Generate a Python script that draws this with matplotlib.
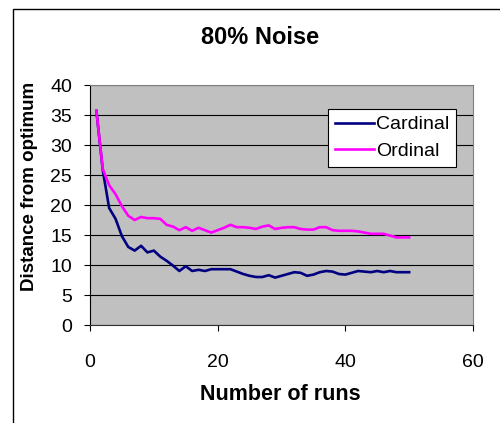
import matplotlib.pyplot as plt
from matplotlib.patches import Rectangle

plt.rcParams['font.family'] = ['Liberation Sans', 'DejaVu Sans']

runs = list(range(1, 51))
cardinal = [35.7, 25.8, 19.5, 17.7, 14.8, 13.0, 12.4, 13.2, 12.1, 12.4,
            11.4, 10.7, 9.9, 9.0, 9.8, 9.0, 9.2, 9.0, 9.3, 9.3,
            9.3, 9.3, 8.9, 8.5, 8.2, 8.0, 8.0, 8.3, 7.9, 8.2,
            8.5, 8.8, 8.7, 8.2, 8.4, 8.8, 9.0, 8.9, 8.5, 8.4,
            8.7, 9.0, 8.9, 8.8, 9.0, 8.8, 9.0, 8.8, 8.8, 8.8]
ordinal = [35.7, 26.0, 23.3, 21.8, 19.8, 18.2, 17.5, 18.0, 17.8, 17.8,
           17.7, 16.7, 16.4, 15.8, 16.3, 15.7, 16.2, 15.8, 15.4, 15.8,
           16.2, 16.7, 16.3, 16.3, 16.2, 16.0, 16.4, 16.6, 16.0, 16.2,
           16.3, 16.3, 16.0, 15.9, 15.9, 16.3, 16.3, 15.8, 15.7, 15.7,
           15.7, 15.6, 15.4, 15.2, 15.2, 15.2, 14.9, 14.6, 14.6, 14.6]
x_ticks = [0, 20, 40, 60]
y_ticks = list(range(0, 41, 5))

W, H = 500, 423
fig = plt.figure(figsize=(W / 100, H / 100), dpi=100, facecolor='white')

# chart-area frame (only its top and left edges fall inside the image)
fig.patches.append(Rectangle((13 / W, -0.1), 1.2, 1 - 9 / H + 0.1,
                             transform=fig.transFigure, fill=False,
                             edgecolor='black', linewidth=1.0))

ax = fig.add_axes([90 / W, 1 - 325 / H, 383 / W, 240 / H])
ax.set_facecolor('#C0C0C0')

ax.plot(runs, cardinal, color='#000080', linewidth=1.9, label='Cardinal')
ax.plot(runs, ordinal, color='#FF00FF', linewidth=1.9, label='Ordinal')

ax.set_xlim(0, 60)
ax.set_ylim(0, 40)
ax.set_xticks(x_ticks)
ax.set_yticks(y_ticks)
ax.yaxis.grid(True, color='black', linewidth=0.8)
ax.set_axisbelow(True)

for side in ('top', 'right'):
    ax.spines[side].set_color('#808080')
    ax.spines[side].set_linewidth(0.8)
ax.spines['left'].set_color('black')
ax.spines['bottom'].set_color('#333333')

ax.tick_params(axis='both', direction='out', length=4, width=0.8,
               labelsize=14, color='black')
ax.tick_params(axis='y', pad=9)
ax.tick_params(axis='x', pad=17)

fig.text(260 / W, 1 - 38 / H, '80% Noise', fontsize=17, fontweight='bold',
         ha='center', va='center')
fig.text(280 / W, 1 - 394 / H, 'Number of runs', fontsize=15.5, fontweight='bold',
         ha='center', va='center')
fig.text(30 / W, 1 - 186 / H, 'Distance from optimum', fontsize=13.5,
         fontweight='bold', ha='center', va='center', rotation=90)

leg = ax.legend(loc='upper left', bbox_to_anchor=(328 / W, 1 - 109 / H),
                bbox_transform=fig.transFigure, fontsize=14, fancybox=False,
                framealpha=1, edgecolor='black', handlelength=2.0,
                handletextpad=0.1, borderpad=0.35, labelspacing=0.45,
                borderaxespad=0)
leg.get_frame().set_linewidth(0.8)

fig.savefig('out.png', dpi=100)
